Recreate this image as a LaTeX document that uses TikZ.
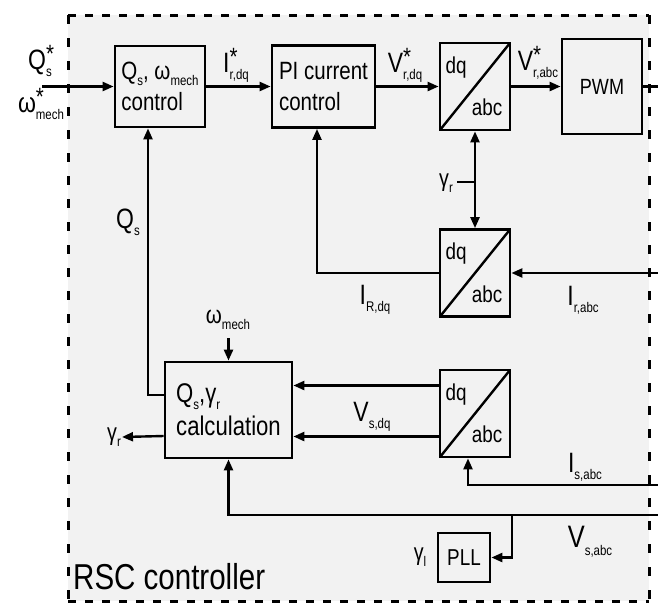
\documentclass[tikz,border=0pt]{standalone}
\usepackage{fontspec}
\setmainfont[FakeStretch=0.82]{Liberation Sans}
\usetikzlibrary{arrows.meta,positioning,calc}
\definecolor{panel}{RGB}{242,242,242}
\newcommand{\sbs}[1]{\raisebox{-0.25em}{\fontsize{14}{14}\selectfont #1}}
\newcommand{\sig}[3]{#1\rlap{\raisebox{0.25em}{\fontsize{25}{25}\selectfont #3}}\sbs{#2}}

\begin{document}
\begin{tikzpicture}[x=1pt, y=-1pt, >={Triangle[length=11pt,width=9pt]},
  blk/.style={draw, line width=2.8pt, align=left, inner sep=3pt, font=\fontsize{25}{31}\selectfont},
  conv/.style={blk, minimum width=70pt, minimum height=87pt, path picture={
    \draw[line width=2.4pt] (path picture bounding box.south west) -- (path picture bounding box.north east);
    \node[font=\fontsize{23}{23}\selectfont] at ([shift={(-19pt,19pt)}]path picture bounding box.center) {dq};
    \node[font=\fontsize{23}{23}\selectfont] at ([shift={(12pt,-21pt)}]path picture bounding box.center) {abc};}},
  wire/.style={line width=2.4pt},
  lbl/.style={inner sep=1pt, font=\fontsize{28}{30}\selectfont}]
\useasboundingbox (0,0) rectangle (658,603);
\fill[panel] (68,15) rectangle (649,601);
\draw[line width=3pt, dash pattern=on 8pt off 9pt] (68,15) -- (649,15) (68,601) -- (649,601);
\draw[line width=3pt, dash pattern=on 9pt off 14pt] (68,15) -- (68,601) (649,15) -- (649,601);

% blocks
\node[blk, minimum width=90pt, minimum height=81pt] (qctrl) at (160,86.5) {Q\sbs{s}, ω\sbs{mech}\\control};
\node[blk, minimum width=103pt, minimum height=82pt] (pictrl) at (323.5,86.5) {PI current\\control};
\node[conv] (dqa) at (475,86.5) {};
\node[blk, minimum width=80pt, minimum height=95pt, font=\fontsize{22}{24}\selectfont] (pwm) at (602,86.5) {PWM};
\node[conv] (dqb) at (475,273) {};
\node[blk, minimum width=127pt, minimum height=96pt, font=\fontsize{27}{33}\selectfont] (calc) at (228.5,410) {Q\sbs{s},γ\sbs{r}\\calculation};
\node[conv] (dqc) at (475,413.5) {};
\node[blk, minimum width=52pt, minimum height=49pt, font=\fontsize{23}{25}\selectfont] (pll) at (464,557.5) {PLL};

% free ends
\coordinate (qin) at (42,86.5);
\coordinate (pwmout) at (658,86.5);
\coordinate (gtap) at (475,182);
\coordinate (irin) at (658,273);
\coordinate (qsturn) at (148,395);
\coordinate (wmtop) at (228.5,338);
\coordinate (isin) at (658,485);
\coordinate (vsin) at (658,515);
\coordinate (pllt) at (512,515);

% labels
\node[lbl] (qsref) at (40,61) {\sig{Q}{s}{*}};
\node[lbl] (wref) at (41,104) {\sig{ω}{mech}{*}};
\node[lbl] (irdq) at (236,65) {\sig{I}{r,dq}{*}};
\node[lbl] (vrdq) at (405,65) {\sig{V}{r,dq}{*}};
\node[lbl] (vrabc) at (538,63) {\sig{V}{r,abc}{*}};
\node[lbl, font=\fontsize{24}{25}\selectfont] (gamr) at (446,183) {γ\sbs{r}};
\node[lbl] (iRdq) at (375,300) {I\sbs{R,dq}};
\node[lbl] (irabc) at (583,300) {I\sbs{r,abc}};
\node[lbl] (qs) at (128,222) {Q\sbs{s}};
\node[lbl, font=\fontsize{25}{26}\selectfont] (wm) at (228,320) {ω\sbs{mech}};
\node[lbl, font=\fontsize{24}{25}\selectfont] (gamout) at (114,437) {γ\sbs{r}};
\node[lbl] (vsdq) at (372,417) {V\sbs{s,dq}};
\node[lbl] (isabc) at (585,467) {I\sbs{s,abc}};
\node[lbl, font=\fontsize{31}{32}\selectfont] (vsabc) at (590,542) {V\sbs{s,abc}};
\node[lbl, font=\fontsize{24}{25}\selectfont] (gaml) at (420,557) {γ\sbs{l}};
\node[lbl, font=\fontsize{36}{38}\selectfont, anchor=west] (rsc) at (72,577) {RSC controller};

% connectors
\draw[wire,->] (qin) -- (qctrl.west);
\draw[wire,->] (qctrl.east) -- (pictrl.west);
\draw[wire,->] (pictrl.east) -- (dqa.west);
\draw[wire,->] (dqa.east) -- (pwm.west);
\draw[wire] (pwm.east) -- (pwmout);
\draw[wire,<->] (dqa.south) -- (dqb.north);
\draw[wire] (gtap) -- ([xshift=3pt]gtap -| gamr.east);
\draw[wire,->] (irin) -- (dqb.east);
\draw[wire,->] (dqb.west) -| ([xshift=-6.5pt]pictrl.south);
\draw[wire,->] ([yshift=15pt]calc.west) -- (qsturn) -- ([xshift=-12pt]qctrl.south);
\draw[wire,->] (wmtop) -- (calc.north);
\draw[wire,->] ([yshift=-26pt]calc.west) -- (gamout.east);
\draw[wire,->] ([yshift=28pt]dqc.west) -- ([yshift=28pt]dqc.west -| calc.east);
\draw[wire,->] ([yshift=-23pt]dqc.west) -- ([yshift=-23pt]dqc.west -| calc.east);
\draw[wire,->] (isin) -| ([xshift=-7pt]dqc.south);
\draw[wire,->] (vsin) -| (calc.south);
\draw[wire,->] (pllt) |- (pll.east);
\end{tikzpicture}
\end{document}
